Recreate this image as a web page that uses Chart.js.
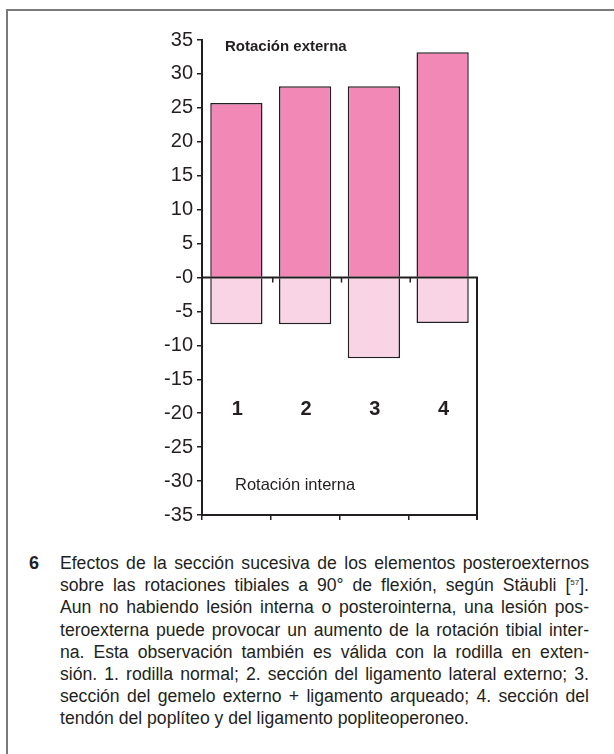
<!DOCTYPE html>
<html lang="es">
<head>
<meta charset="utf-8">
<script src="https://cdn.jsdelivr.net/npm/chart.js@4/dist/chart.umd.min.js"></script>
<style>
  html, body { margin: 0; padding: 0; background: #fff; }
  body { width: 614px; height: 754px; position: relative; overflow: hidden;
         font-family: "Liberation Sans", Arial, Helvetica, sans-serif; color: #231F20; }
  #frame { position: absolute; left: 6px; top: 9px; right: -4px; bottom: -4px;
           border-left: 2px solid #7a7a7a; border-top: 2px solid #7a7a7a; }
  #wrap { position: absolute; left: 0; top: 0; width: 614px; height: 540px; }
  #num { position: absolute; left: 29px; top: 552px; font-weight: bold; font-size: 18px; line-height: 22.2px; }
  #cap { position: absolute; left: 60px; top: 552px; width: 529px; font-size: 17.6px; line-height: 22.2px;
         word-spacing: -1px; }
  #cap div { white-space: nowrap; text-align: justify; text-align-last: justify; }
  #cap div.last { text-align-last: left; word-spacing: 0; }
  sup { font-size: 8px; vertical-align: 6px; line-height: 0; }
</style>
</head>
<body>
<div id="frame"></div>
<div id="wrap"><canvas id="c" width="614" height="540"></canvas></div>
<div id="num">6</div>
<div id="cap">
  <div>Efectos de la sección sucesiva de los elementos posteroexternos</div>
  <div>sobre las rotaciones tibiales a 90° de flexión, según Stäubli [<sup>57</sup>].</div>
  <div>Aun no habiendo lesión interna o posterointerna, una lesión pos-</div>
  <div>teroexterna puede provocar un aumento de la rotación tibial inter-</div>
  <div>na. Esta observación también es válida con la rodilla en exten-</div>
  <div>sión. 1. rodilla normal; 2. sección del ligamento lateral externo; 3.</div>
  <div>sección del gemelo externo + ligamento arqueado; 4. sección del</div>
  <div class="last">tendón del poplíteo y del ligamento popliteoperoneo.</div>
</div>
<script>
// Knee stages (1 = intact, 2-4 = successive posterolateral sections)
const categories = ['1', '2', '3', '4'];
// Tibial rotation in degrees at 90° flexion
const externalRotation = [25.7, 28.2, 28.2, 33.2];
const internalRotation = [-6.9, -6.9, -11.9, -6.7];
// Value axis range and step
const yMin = -35;
const yMax = 35;
const yStep = 5;

const INK = '#231F20';

// Extra axis furniture: baseline at zero, right edge of the lower half,
// stage numbers and the two direction labels.
const decorations = {
  id: 'decorations',
  afterDatasetsDraw(chart) {
    const ctx = chart.ctx;
    const x = chart.scales.x;
    const y = chart.scales.y;
    const area = chart.chartArea;
    const y0 = y.getPixelForValue(0);
    ctx.save();
    ctx.strokeStyle = INK;
    ctx.lineWidth = 2;
    ctx.beginPath();
    ctx.moveTo(area.left, y0);
    ctx.lineTo(area.right + 1, y0);
    ctx.moveTo(area.right, y0);
    ctx.lineTo(area.right, area.bottom + 5);
    ctx.stroke();
    // small ticks under the zero line between categories
    ctx.lineWidth = 1.5;
    ctx.beginPath();
    for (let i = 0; i < categories.length - 1; i++) {
      const bx = (x.getPixelForValue(i) + x.getPixelForValue(i + 1)) / 2 + 2;
      ctx.moveTo(bx, y0);
      ctx.lineTo(bx, y0 + 5);
    }
    ctx.stroke();

    ctx.fillStyle = INK;
    ctx.textBaseline = 'alphabetic';
    ctx.textAlign = 'center';
    ctx.font = 'bold 20px "Liberation Sans", Arial, sans-serif';
    categories.forEach((c, i) => {
      ctx.fillText(c, x.getPixelForValue(i) + 1, y.getPixelForValue(-20) + 2);
    });
    ctx.textAlign = 'left';
    ctx.textBaseline = 'middle';
    ctx.font = 'bold 15px "Liberation Sans", Arial, sans-serif';
    ctx.fillText('Rotación externa', area.left + 23, y.getPixelForValue(34));
    ctx.font = '16.5px "Liberation Sans", Arial, sans-serif';
    ctx.fillText('Rotación interna', area.left + 33, y.getPixelForValue(-30.7));
    ctx.restore();
  }
};

new Chart(document.getElementById('c'), {
  type: 'bar',
  data: {
    labels: categories,
    datasets: [
      {
        label: 'Rotación externa',
        data: externalRotation,
        backgroundColor: '#F288B5',
        borderColor: INK,
        borderWidth: 1.5,
        barPercentage: 0.76,
        categoryPercentage: 1
      },
      {
        label: 'Rotación interna',
        data: internalRotation,
        backgroundColor: '#F9D4E5',
        borderColor: INK,
        borderWidth: 1.5,
        barPercentage: 0.76,
        categoryPercentage: 1
      }
    ]
  },
  options: {
    responsive: false,
    animation: false,
    events: [],
    layout: { padding: { left: 100, right: 137, top: 40, bottom: 25 } },
    plugins: { legend: { display: false }, tooltip: { enabled: false }, title: { display: false } },
    scales: {
      x: {
        stacked: true,
        grid: { display: true, drawOnChartArea: false, offset: true, drawTicks: true,
                tickLength: 5, color: INK, lineWidth: 1.5 },
        border: { display: true, color: INK, width: 2 },
        ticks: { display: false },
        afterFit(scale) { scale.height = 0; }
      },
      y: {
        stacked: true,
        min: yMin,
        max: yMax,
        grid: { display: true, drawOnChartArea: false, drawTicks: true,
                tickLength: 5, color: INK, lineWidth: 1.5 },
        border: { display: true, color: INK, width: 2 },
        ticks: {
          stepSize: yStep,
          padding: 4,
          color: INK,
          font: { family: '"Liberation Sans", Arial, sans-serif', size: 20 },
          callback: (v) => (v === 0 ? '-0' : String(v))
        },
        afterFit(scale) { scale.width = 102; }
      }
    }
  },
  plugins: [decorations]
});
</script>
</body>
</html>
